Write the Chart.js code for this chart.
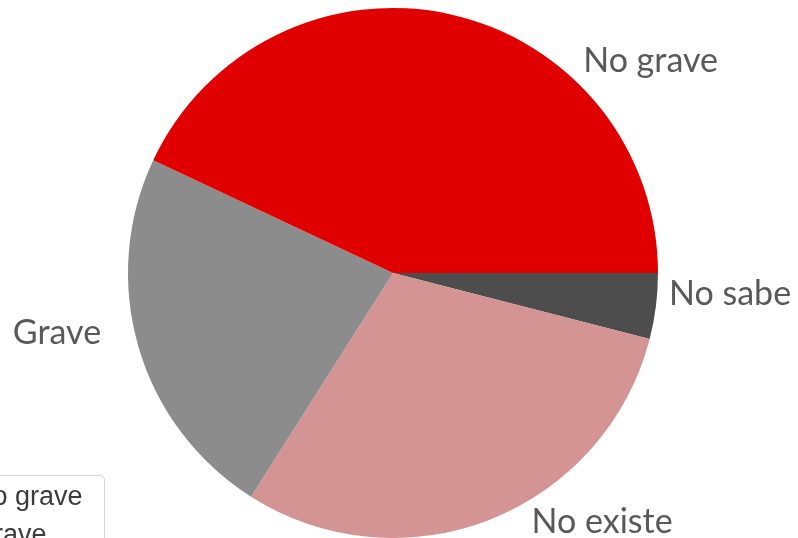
<!DOCTYPE html>
<html>
<head>
<meta charset="utf-8">
<script src="https://cdn.jsdelivr.net/npm/chart.js@4/dist/chart.umd.min.js"></script>
<style>
  html, body { margin: 0; padding: 0; background: #ffffff; overflow: hidden; }
  #wrap { position: relative; width: 798px; height: 538px; overflow: hidden; }
  #c { position: absolute; left: 0; top: 0; }
  #legend {
    position: absolute; left: -62px; top: 475px; width: 167px; height: 100px;
    border: 1px solid #d4d4d4; border-radius: 5px; background: #fff;
    font-family: "Liberation Sans", Arial, sans-serif; font-size: 27px; color: #3c3c3c;
    box-sizing: border-box; padding-top: 1px;
  }
  #legend .item { position: relative; height: 38px; line-height: 38px; white-space: nowrap; padding-left: 34px; }
  #legend .sw { position: absolute; left: 12px; top: 13px; width: 13px; height: 13px; }
</style>
</head>
<body>
<div id="wrap">
  <canvas id="c" width="798" height="538"></canvas>
  <div id="legend"></div>
</div>
<script>
// Data (legend order)
const categories = ['No grave', 'Grave', 'No existe', 'No sabe'];
const values = [43, 23, 30, 4];
const colors = ['#E00000', '#8C8C8C', '#D59494', '#4D4D4D'];

// Label placement relative to pie centre, in units of the pie radius (style only)
const labelLayout = {
  'No grave':  { dx: 0.972,  dy: -0.758 },
  'No sabe':   { dx: 1.272,  dy: 0.121 },
  'Grave':     { dx: -1.268, dy: 0.268 },
  'No existe': { dx: 0.789,  dy: 0.981 }
};

// Chart.js draws clockwise; the reference runs counter-clockwise from 3 o'clock,
// so feed the series in reverse order.
const chartLabels = categories.slice().reverse();
const chartValues = values.slice().reverse();
const chartColors = colors.slice().reverse();

const outsideLabels = {
  id: 'outsideLabels',
  afterDatasetsDraw(chart) {
    const ctx = chart.ctx;
    const meta = chart.getDatasetMeta(0);
    ctx.save();
    ctx.font = '34px Lato, "Open Sans", sans-serif';
    ctx.fillStyle = '#595959';
    ctx.textAlign = 'center';
    ctx.textBaseline = 'alphabetic';
    meta.data.forEach((arc, i) => {
      const name = chart.data.labels[i];
      const l = labelLayout[name];
      const r = arc.outerRadius;
      ctx.fillText(name, arc.x + l.dx * r, arc.y + l.dy * r);
    });
    ctx.restore();
  }
};

new Chart(document.getElementById('c'), {
  type: 'pie',
  data: {
    labels: chartLabels,
    datasets: [{
      data: chartValues,
      backgroundColor: chartColors,
      borderWidth: 0,
      hoverBorderWidth: 0,
      hoverOffset: 0
    }]
  },
  options: {
    responsive: false,
    animation: false,
    rotation: 90,
    layout: { padding: { top: 8, bottom: 0, left: 0, right: 12 } },
    plugins: { legend: { display: false }, tooltip: { enabled: false } },
    events: []
  },
  plugins: [outsideLabels]
});

// HTML legend (cropped at the lower-left like the reference)
const lg = document.getElementById('legend');
categories.forEach((name, i) => {
  const it = document.createElement('div');
  it.className = 'item';
  const sw = document.createElement('span');
  sw.className = 'sw';
  sw.style.background = colors[i];
  it.appendChild(sw);
  it.appendChild(document.createTextNode(name));
  lg.appendChild(it);
});
</script>
</body>
</html>
